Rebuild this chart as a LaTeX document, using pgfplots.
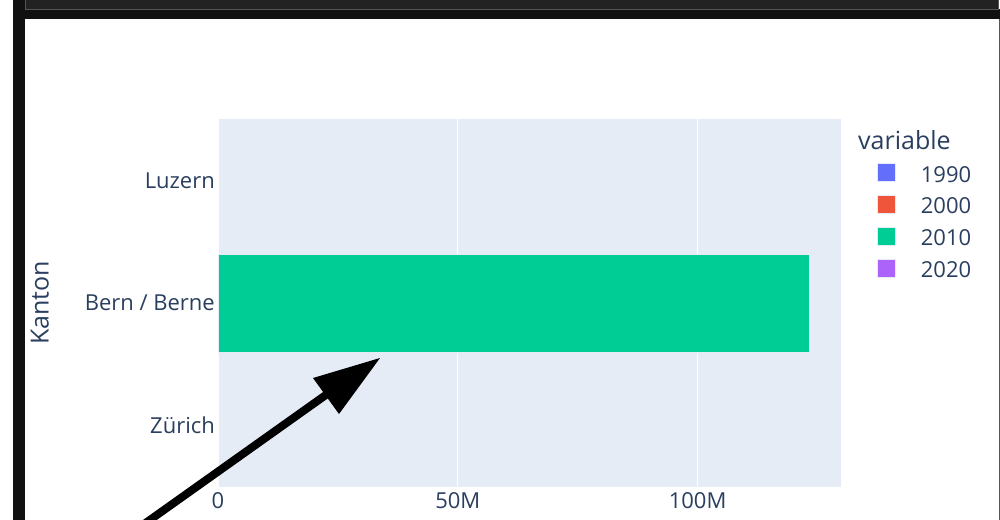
\documentclass[border=0pt]{standalone}
\usepackage{pgfplots}
\pgfplotsset{compat=1.18}
\usepackage{fontspec}
\setmainfont{Open Sans}
\definecolor{txt}{HTML}{2A3F5F}
\definecolor{bgp}{HTML}{E5ECF6}
\definecolor{cA}{HTML}{636EFA}
\definecolor{cB}{HTML}{EF553B}
\definecolor{cC}{HTML}{00CC96}
\definecolor{cD}{HTML}{AB63FA}
\definecolor{dk}{HTML}{111111}
\definecolor{dkb}{HTML}{222222}
\definecolor{gr}{HTML}{555555}
\newcommand\fs{\fontsize{22bp}{26bp}\selectfont}
\newcommand\fl{\fontsize{25bp}{30bp}\selectfont}
\pgfplotsset{sq/.style={legend image code/.code={\fill[##1] (0bp,-7bp) rectangle (18bp,11bp);}}}
\begin{document}
\begin{tikzpicture}
\fill[white] (0,0) rectangle (1000bp,-520bp);
\useasboundingbox (0,0) rectangle (1000bp,-520bp);
\fill[dk] (13bp,0) rectangle (25bp,-520bp);
\fill[dk] (25bp,-9bp) rectangle (1000bp,-19bp);
\fill[dkb] (25bp,0) rectangle (998bp,-9bp);
\draw[gr, line width=1bp] (25.5bp,0) -- (25.5bp,-9.5bp) -- (998.5bp,-9.5bp) -- (998.5bp,0);
\draw[gr, line width=1bp] (999.5bp,-19bp) -- (999.5bp,-520bp);
\begin{axis}[
  at={(218bp,-487bp)}, anchor=south west,
  scale only axis, width=623bp, height=368bp,
  xbar stacked, bar width=0.8,
  xmin=0, xmax=129.9e6, ymin=-0.5, ymax=2.5,
  clip=false,
  axis background/.style={fill=bgp},
  axis line style={draw=none},
  major tick length=0pt,
  xmajorgrids, grid style={white, line width=1bp},
  scaled x ticks=false,
  xtick={50e6,100e6}, xticklabels={50M,100M},
  extra x ticks={0}, extra x tick labels={0},
  extra x tick style={grid style={white, line width=2bp}},
  ytick={0,1,2}, yticklabels={Zürich, Bern / Berne, Luzern},
  xticklabel style={font=\fs, text=txt, inner sep=0pt, anchor=north, yshift=-5bp},
  yticklabel style={font=\fs, text=txt, inner sep=0pt, anchor=base east, xshift=-3bp, yshift=-7.9bp},
  ylabel={Kanton},
  ylabel style={font=\fl, text=txt, at={(axis description cs:-0.2862,0.5)}, anchor=center},
  legend style={at={(axis description cs:1.058,0.880)}, anchor=north west,
    draw=none, fill=none, inner sep=0pt, column sep=25bp, row sep=12bp,
    font=\fs, text=txt,
    nodes={inner sep=0pt, text height=16bp, text depth=1bp}},
  legend cell align=left,
]
\addplot[fill=cA, draw=bgp, line width=0.5bp, sq] coordinates {(0,0) (0,1) (0,2)};
\addlegendentry{1990}
\addplot[fill=cB, draw=bgp, line width=0.5bp, sq] coordinates {(0,0) (0,1) (0,2)};
\addlegendentry{2000}
\addplot[fill=cC, draw=bgp, line width=0.5bp, sq] coordinates {(0,0) (123.3e6,1) (0,2)};
\addlegendentry{2010}
\addplot[fill=cD, draw=bgp, line width=0.5bp, sq] coordinates {(0,0) (0,1) (0,2)};
\addlegendentry{2020}
\node[anchor=base west, text=txt, font=\fl, inner sep=0pt] at (axis description cs:1.0273,0.9158) {variable};
\end{axis}
\fill[black] (380bp,-358bp) -- (313bp,-378bp) -- (339bp,-414bp) -- cycle;
\draw[black, line width=8bp] (140bp,-527bp) -- (330bp,-392bp);
\end{tikzpicture}
\end{document}
